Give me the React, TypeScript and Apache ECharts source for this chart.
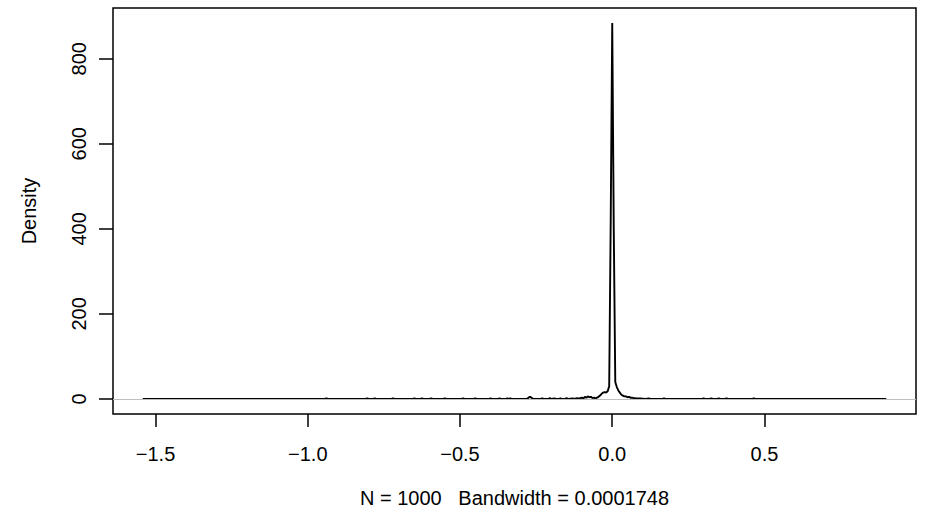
import React, { useEffect, useRef } from "react";
import * as echarts from "echarts";

// Density curve points (x, density)
const densityX = [
  -1.542, -0.945, -0.939, -0.934, -0.81, -0.805, -0.8, -0.785, -0.78, -0.775,
  -0.725, -0.72, -0.715, -0.655, -0.65, -0.645, -0.63, -0.625, -0.62, -0.6,
  -0.595, -0.59, -0.555, -0.55, -0.545, -0.495, -0.49, -0.485, -0.455, -0.45,
  -0.445, -0.405, -0.4, -0.395, -0.375, -0.37, -0.365, -0.35, -0.345, -0.34,
  -0.335, -0.33, -0.28, -0.275, -0.27, -0.265, -0.26, -0.235, -0.23, -0.225,
  -0.21, -0.205, -0.2, -0.19, -0.185, -0.175, -0.17, -0.165, -0.155, -0.15,
  -0.145, -0.13, -0.125, -0.115, -0.11, -0.1, -0.095, -0.09, -0.085, -0.08,
  -0.075, -0.07, -0.065, -0.06, -0.055, -0.05, -0.045, -0.04, -0.035, -0.03,
  -0.025, -0.02, -0.015, -0.01, -0.005, 0.0, 0.005, 0.01, 0.015, 0.02,
  0.025, 0.03, 0.035, 0.04, 0.045, 0.05, 0.055, 0.06, 0.065, 0.07,
  0.075, 0.08, 0.09, 0.1, 0.11, 0.12, 0.125, 0.165, 0.17, 0.175,
  0.295, 0.3, 0.305, 0.32, 0.325, 0.33, 0.345, 0.35, 0.355, 0.37,
  0.375, 0.38, 0.46, 0.465, 0.47, 0.9,
];
const densityY = [
  0.3, 0, 1.5, 0, 0, 1.5, 0, 0, 1.2, 0,
  0, 1.5, 0, 0, 1.2, 0, 0, 1.3, 0, 0,
  1.5, 0, 0, 1.5, 0, 0, 1.3, 0, 0, 1.5,
  0, 0, 1.2, 0, 0, 1.5, 0, 0, 1.2, 0,
  1.5, 0, 0, 3, 5, 3, 0, 0, 1.5, 0,
  0, 2, 0, 1.5, 0, 0, 1.5, 0, 0, 2,
  0, 1.5, 0, 2, 0.5, 3, 1, 5, 3, 6,
  4, 5, 2, 3, 1, 3, 5, 8, 12, 15,
  16, 15, 18, 30, 420, 884, 400, 40, 28, 20,
  15, 10, 8, 6, 6, 4, 5, 3, 3, 2,
  2, 1.5, 1, 0.5, 0, 1.5, 0, 0, 1.5, 0,
  0, 1.3, 0, 0, 1.5, 0, 0, 1.3, 0, 0,
  1.5, 0, 0, 1.5, 0, 0.2,
];

const xTickValues = [-1.5, -1.0, -0.5, 0.0, 0.5];
const xTickLabels = ["\u22121.5", "\u22121.0", "\u22120.5", "0.0", "0.5"];
const yTickValues = [0, 200, 400, 600, 800];
const yTickLabels = ["0", "200", "400", "600", "800"];

const xTitle = "N = 1000   Bandwidth = 0.0001748";
const yTitle = "Density";

const FONT = "'Liberation Sans', Arial, Helvetica, sans-serif";

export default function App() {
  const ref = useRef<HTMLDivElement>(null);

  useEffect(() => {
    if (!ref.current) return;
    const chart = echarts.init(ref.current, null, { renderer: "svg" });

    const xMinD = Math.min(...densityX);
    const xMaxD = Math.max(...densityX);
    const yMaxD = Math.max(...densityY);
    const xPad = (xMaxD - xMinD) * 0.04;
    const yPad = yMaxD * 0.04;

    const findLabel = (vals: number[], labels: string[], v: number) => {
      for (let i = 0; i < vals.length; i++) {
        if (Math.abs(vals[i] - v) < 1e-9) return labels[i];
      }
      return "";
    };

    chart.setOption({
      animation: false,
      grid: {
        left: 113,
        top: 8,
        width: 803,
        height: 406,
        show: true,
        borderColor: "#000",
        borderWidth: 1.5,
        backgroundColor: "transparent",
        containLabel: false,
      },
      xAxis: {
        type: "value",
        min: xMinD - xPad,
        max: xMaxD + xPad,
        axisLine: { show: false, onZero: false },
        splitLine: { show: false },
        axisTick: {
          show: true,
          inside: false,
          customValues: xTickValues,
          length: 13,
          lineStyle: { color: "#000", width: 1.5 },
        },
        axisLabel: {
          customValues: xTickValues,
          formatter: (v: number) => findLabel(xTickValues, xTickLabels, v),
          color: "#000",
          fontSize: 20,
          fontFamily: FONT,
          margin: 30,
        },
        name: xTitle,
        nameLocation: "middle",
        nameGap: 74,
        nameTextStyle: { color: "#000", fontSize: 20, fontFamily: FONT },
      },
      yAxis: {
        type: "value",
        min: -yPad,
        max: yMaxD + yPad,
        axisLine: { show: false, onZero: false },
        splitLine: { show: false },
        axisTick: {
          show: true,
          inside: false,
          customValues: yTickValues,
          length: 14,
          lineStyle: { color: "#000", width: 1.5 },
        },
        axisLabel: {
          customValues: yTickValues,
          formatter: (v: number) => findLabel(yTickValues, yTickLabels, v),
          color: "#000",
          fontSize: 20,
          fontFamily: FONT,
          rotate: 90,
          margin: 24,
        },
        name: yTitle,
        nameLocation: "middle",
        nameRotate: 90,
        nameGap: 74,
        nameTextStyle: { color: "#000", fontSize: 20, fontFamily: FONT },
      },
      series: [
        {
          type: "line",
          data: densityX.map((x, i) => [x, densityY[i]]),
          showSymbol: false,
          symbol: "none",
          lineStyle: { color: "#000", width: 1.9 },
          silent: true,
          markLine: {
            silent: true,
            symbol: "none",
            label: { show: false },
            lineStyle: { color: "#bebebe", width: 1.2, type: "solid" },
            data: [{ yAxis: 0 }],
          },
        },
      ],
    });

    return () => chart.dispose();
  }, []);

  return (
    <div
      ref={ref}
      style={{ position: "fixed", left: 0, top: 0, width: 928, height: 520, background: "#fff" }}
    />
  );
}
